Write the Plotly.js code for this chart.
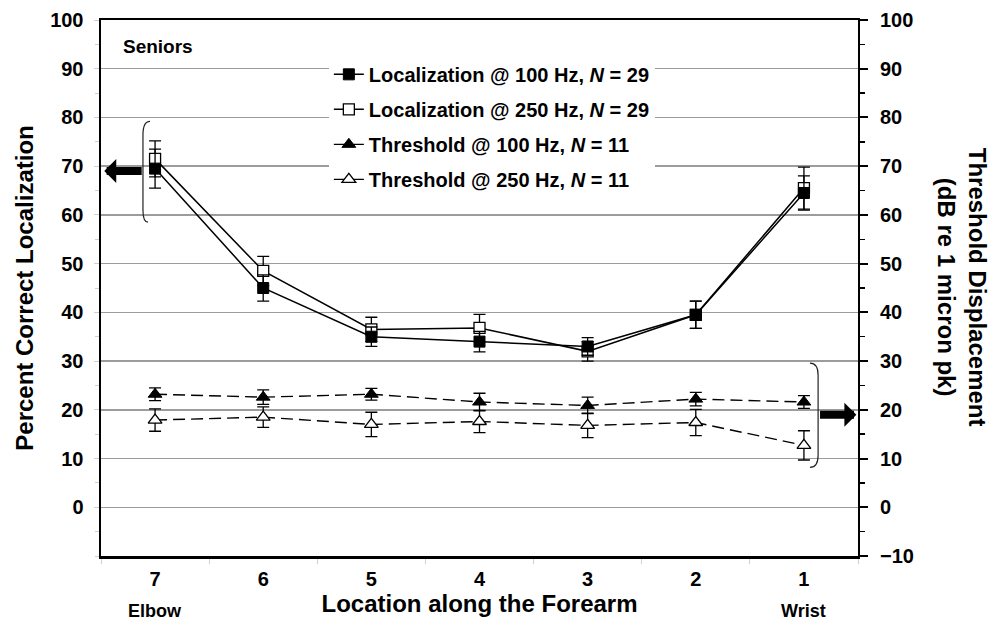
<!DOCTYPE html>
<html>
<head>
<meta charset="utf-8">
<script src="https://cdn.plot.ly/plotly-3.0.1.min.js"></script>
<style>html,body{margin:0;padding:0;background:#fff;}#chart{width:992px;height:623px;}</style>
</head>
<body>
<div id="chart"></div>
<script>
// Location along the forearm (7 = elbow ... 1 = wrist)
var locations = [7, 6, 5, 4, 3, 2, 1];

// Percent correct localization (left axis)
var loc100 = [69.5, 45.0, 35.0, 34.0, 33.0, 39.5, 64.5];
var loc100Err = [4.0, 2.7, 2.0, 2.1, 1.8, 2.8, 3.5];
var loc250 = [71.5, 48.5, 36.5, 36.8, 32.0, 39.5, 65.5];
var loc250Err = [3.7, 3.0, 2.5, 2.8, 2.0, 2.8, 4.3];

// Threshold displacement, dB re 1 micron pk (right axis)
var thr100 = [23.2, 22.6, 23.2, 21.6, 20.9, 22.2, 21.6];
var thr100Err = [1.3, 1.5, 1.2, 1.8, 1.7, 1.4, 1.3];
var thr250 = [17.9, 18.5, 17.0, 17.6, 16.8, 17.4, 12.7];
var thr250Err = [2.3, 2.1, 2.5, 2.3, 2.5, 2.7, 3.0];

var seriesNames = [
  'Localization @ 100 Hz, <i>N</i> = 29',
  'Localization @ 250 Hz, <i>N</i> = 29',
  'Threshold @ 100 Hz, <i>N</i> = 11',
  'Threshold @ 250 Hz, <i>N</i> = 11'
];

var leftTicks = [0, 10, 20, 30, 40, 50, 60, 70, 80, 90, 100];
var rightTicks = [-10, 0, 10, 20, 30, 40, 50, 60, 70, 80, 90, 100];

var FONT = 'Liberation Sans, Arial, Helvetica, sans-serif';

function errBar(arr) {
  return {type: 'data', array: arr, visible: true, color: '#000', thickness: 1.3, width: 6};
}

var traces = [
  {
    x: locations, y: thr250, yaxis: 'y2', name: seriesNames[3], legendrank: 4, legendgroup: 'd',
    mode: 'lines+markers', type: 'scatter',
    line: {color: '#000', width: 1.4, dash: '12px,6px'},
    marker: {symbol: 'triangle-up', size: 12, color: '#fff', line: {color: '#000', width: 1.3}},
    error_y: errBar(thr250Err)
  },
  {
    x: locations, y: thr100, yaxis: 'y2', name: seriesNames[2], legendrank: 3, legendgroup: 'c',
    mode: 'lines+markers', type: 'scatter',
    line: {color: '#000', width: 1.4, dash: '12px,6px'},
    marker: {symbol: 'triangle-up', size: 12, color: '#000', line: {color: '#000', width: 1}},
    error_y: errBar(thr100Err)
  },
  {
    x: locations, y: loc250, name: seriesNames[1], legendrank: 2, legendgroup: 'b',
    mode: 'lines+markers', type: 'scatter',
    line: {color: '#000', width: 1.5},
    marker: {symbol: 'square', size: 11, color: '#fff', line: {color: '#000', width: 1.3}},
    error_y: errBar(loc250Err)
  },
  {
    x: locations, y: loc100, name: seriesNames[0], legendrank: 1, legendgroup: 'a',
    mode: 'lines+markers', type: 'scatter',
    line: {color: '#000', width: 1.5},
    marker: {symbol: 'square', size: 11, color: '#000', line: {color: '#000', width: 1}},
    error_y: errBar(loc100Err)
  }
];

var layout = {
  width: 992, height: 623,
  margin: {l: 101, r: 134, t: 20, b: 67, pad: 0},
  paper_bgcolor: '#fff', plot_bgcolor: '#fff',
  font: {family: FONT, size: 20, color: '#000', weight: 'bold'},
  showlegend: true,
  legend: {
    x: 0.301, y: 0.935, xanchor: 'left', yanchor: 'top',
    bgcolor: '#fff', borderwidth: 0,
    font: {family: FONT, size: 20, color: '#000', weight: 'bold'},
    tracegroupgap: 6, itemwidth: 30
  },
  xaxis: {
    range: [7.5, 0.5], tickmode: 'array', tickvals: locations,
    ticks: '', showgrid: false, zeroline: false,
    showline: true, linecolor: '#000', linewidth: 2.5, mirror: true,
    tickfont: {family: FONT, size: 20, weight: 'bold'},
    ticklabelstandoff: 3,
    minor: {tick0: 0.5, dtick: 1, ticks: 'outside', ticklen: 5, tickcolor: '#d0d0d0', showgrid: false},
    title: {text: 'Location along the Forearm', font: {family: FONT, size: 24, weight: 'bold'}, standoff: 7}
  },
  yaxis: {
    range: [-10, 100], tickmode: 'array', tickvals: leftTicks,
    ticks: 'outside', ticklen: 5, tickcolor: '#d0d0d0',
    showgrid: true, gridcolor: '#9c9c9c', gridwidth: 1.5, zeroline: false,
    showline: true, linecolor: '#000', linewidth: 2.5,
    tickfont: {family: FONT, size: 20, weight: 'bold'},
    ticklabelstandoff: 6,
    minor: {tick0: 0, dtick: 5, ticks: 'outside', ticklen: 4, tickcolor: '#d0d0d0', showgrid: false},
    title: {text: 'Percent Correct Localization', font: {family: FONT, size: 24, weight: 'bold'}, standoff: 10}
  },
  yaxis2: {
    overlaying: 'y', side: 'right',
    range: [-10, 100], tickmode: 'array', tickvals: rightTicks,
    ticks: 'outside', ticklen: 8, tickwidth: 2, tickcolor: '#000',
    showgrid: false, zeroline: false,
    showline: true, linecolor: '#000', linewidth: 2,
    tickfont: {family: FONT, size: 20, weight: 'bold'},
    ticklabelstandoff: 8,
    minor: {tick0: 0, dtick: 5, ticks: 'outside', ticklen: 5, tickwidth: 1.5, tickcolor: '#000', showgrid: false}
  },
  shapes: [
    {type: 'path', xref: 'x', yref: 'y',
     path: 'M 7.047,79.2 Q 7.112,79.2 7.112,76.4 L 7.112,61.0 Q 7.112,58.5 7.065,58.5',
     line: {color: '#222', width: 1.2}},
    {type: 'path', xref: 'x', yref: 'y',
     path: 'M 0.944,29.6 Q 0.869,29.6 0.869,27.1 L 0.869,10.7 Q 0.869,8.2 0.944,8.2',
     line: {color: '#222', width: 1.2}}
  ],
  annotations: [
    {text: 'Seniors', xref: 'paper', yref: 'paper', x: 0.027, y: 0.95, xanchor: 'left', yanchor: 'middle',
     showarrow: false, font: {family: FONT, size: 19, weight: 'bold'}},
    {text: 'Elbow', xref: 'x', yref: 'paper', x: 7, y: -0.102, xanchor: 'center', yanchor: 'middle',
     showarrow: false, font: {family: FONT, size: 18, weight: 'bold'}},
    {text: 'Wrist', xref: 'x', yref: 'paper', x: 1, y: -0.102, xanchor: 'center', yanchor: 'middle',
     showarrow: false, font: {family: FONT, size: 18, weight: 'bold'}},
    {text: 'Threshold Displacement<br>(dB re 1 micron pk)', xref: 'paper', yref: 'paper',
     x: 1.137, y: 0.501, xanchor: 'center', yanchor: 'middle', textangle: 90,
     showarrow: false, font: {family: FONT, size: 24, weight: 'bold'}},
    {text: '', xref: 'x', yref: 'y', x: 7.47, y: 69, axref: 'x', ayref: 'y', ax: 7.11, ay: 69,
     showarrow: true, arrowhead: 1, arrowsize: 0.5, arrowwidth: 8, arrowcolor: '#000', standoff: 0, startstandoff: 0},
    {text: '', xref: 'x', yref: 'y', x: 0.515, y: 19, axref: 'x', ayref: 'y', ax: 0.865, ay: 19,
     showarrow: true, arrowhead: 1, arrowsize: 0.5, arrowwidth: 8, arrowcolor: '#000', standoff: 0, startstandoff: 0}
  ]
};

Plotly.newPlot('chart', traces, layout, {displayModeBar: false, staticPlot: true});
</script>
</body>
</html>
